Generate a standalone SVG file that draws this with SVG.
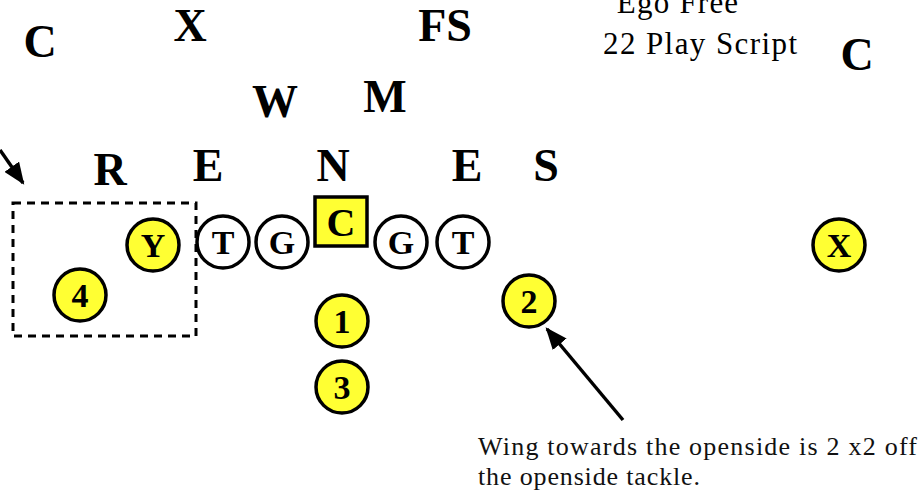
<svg xmlns="http://www.w3.org/2000/svg" width="922" height="495" viewBox="0 0 922 495">
<style>
.def{font-family:"Liberation Serif","Times New Roman",serif;font-weight:bold;font-size:46px;fill:#000;text-anchor:middle}
.pl{fill:#fff;stroke:#000;stroke-width:3.5}
.yl{fill:#ffff33;stroke:#000;stroke-width:3.5}
.pt{font-family:"Liberation Serif","Times New Roman",serif;font-weight:bold;font-size:34px;fill:#000;text-anchor:middle}
.note{font-family:"Liberation Serif","Times New Roman",serif;font-size:26px;fill:#111}
.ttl{font-family:"Liberation Serif","Times New Roman",serif;font-size:31px;fill:#000}
</style>
<defs>
<marker id="ah2" viewBox="0 0 10 10" refX="9" refY="5" markerWidth="22" markerHeight="18" orient="auto" markerUnits="userSpaceOnUse" preserveAspectRatio="none">
<path d="M0,0 L10,5 L0,10 z" fill="#000"/>
</marker>
</defs>
<rect width="922" height="495" fill="#fff"/>
<g id="title">
<text class="ttl" x="603" y="13" textLength="149" lengthAdjust="spacing">"Ego Free"</text>
<text class="ttl" x="603" y="54" textLength="194" lengthAdjust="spacing">22 Play Script</text>
</g>
<g id="defense">
<text class="def" x="40" y="57">C</text>
<text class="def" x="190" y="41">X</text>
<text class="def" x="445" y="41">FS</text>
<text class="def" x="275" y="117">W</text>
<text class="def" x="385" y="112">M</text>
<text class="def" x="110" y="185">R</text>
<text class="def" x="208" y="181">E</text>
<text class="def" x="333" y="181">N</text>
<text class="def" x="467" y="181">E</text>
<text class="def" x="546" y="181">S</text>
<text class="def" x="857" y="70">C</text>
</g>
<g id="box"><rect x="13" y="203" width="183" height="133" fill="none" stroke="#000" stroke-width="3" stroke-dasharray="8,6"/></g>
<g id="Y"><circle class="yl" cx="153" cy="245" r="26"/><text class="pt" x="153" y="257">Y</text></g>
<g id="B4"><circle class="yl" cx="80" cy="295" r="26"/><text class="pt" x="80" y="307">4</text></g>
<g id="LT"><circle class="pl" cx="223" cy="242" r="26"/><text class="pt" x="223" y="254">T</text></g>
<g id="LG"><circle class="pl" cx="282" cy="242" r="26"/><text class="pt" x="282" y="254">G</text></g>
<g id="Ctr"><rect class="yl" x="315" y="197" width="52" height="49"/><text class="pt" x="341" y="236" style="font-size:40px">C</text></g>
<g id="RG"><circle class="pl" cx="401" cy="242" r="26"/><text class="pt" x="401" y="254">G</text></g>
<g id="RT"><circle class="pl" cx="463" cy="242" r="26"/><text class="pt" x="463" y="254">T</text></g>
<g id="B1"><circle class="yl" cx="342" cy="321" r="26"/><text class="pt" x="342" y="333">1</text></g>
<g id="B3"><circle class="yl" cx="342" cy="387" r="26"/><text class="pt" x="342" y="399">3</text></g>
<g id="B2"><circle class="yl" cx="529" cy="301" r="26"/><text class="pt" x="529" y="313">2</text></g>
<g id="WX"><circle class="yl" cx="839" cy="245" r="26"/><text class="pt" x="839" y="257">X</text></g>
<g id="connectors">
<line x1="0" y1="150" x2="23" y2="183" stroke="#000" stroke-width="3.5" marker-end="url(#ah2)"/>
<line x1="623" y1="420" x2="547" y2="329" stroke="#000" stroke-width="3.5" marker-end="url(#ah2)"/>
</g>
<g id="note">
<text class="note" x="478" y="455" textLength="439" lengthAdjust="spacing">Wing towards the openside is 2 x2 off</text>
<text class="note" x="478" y="485" textLength="222" lengthAdjust="spacing">the openside tackle.</text>
</g>
</svg>
